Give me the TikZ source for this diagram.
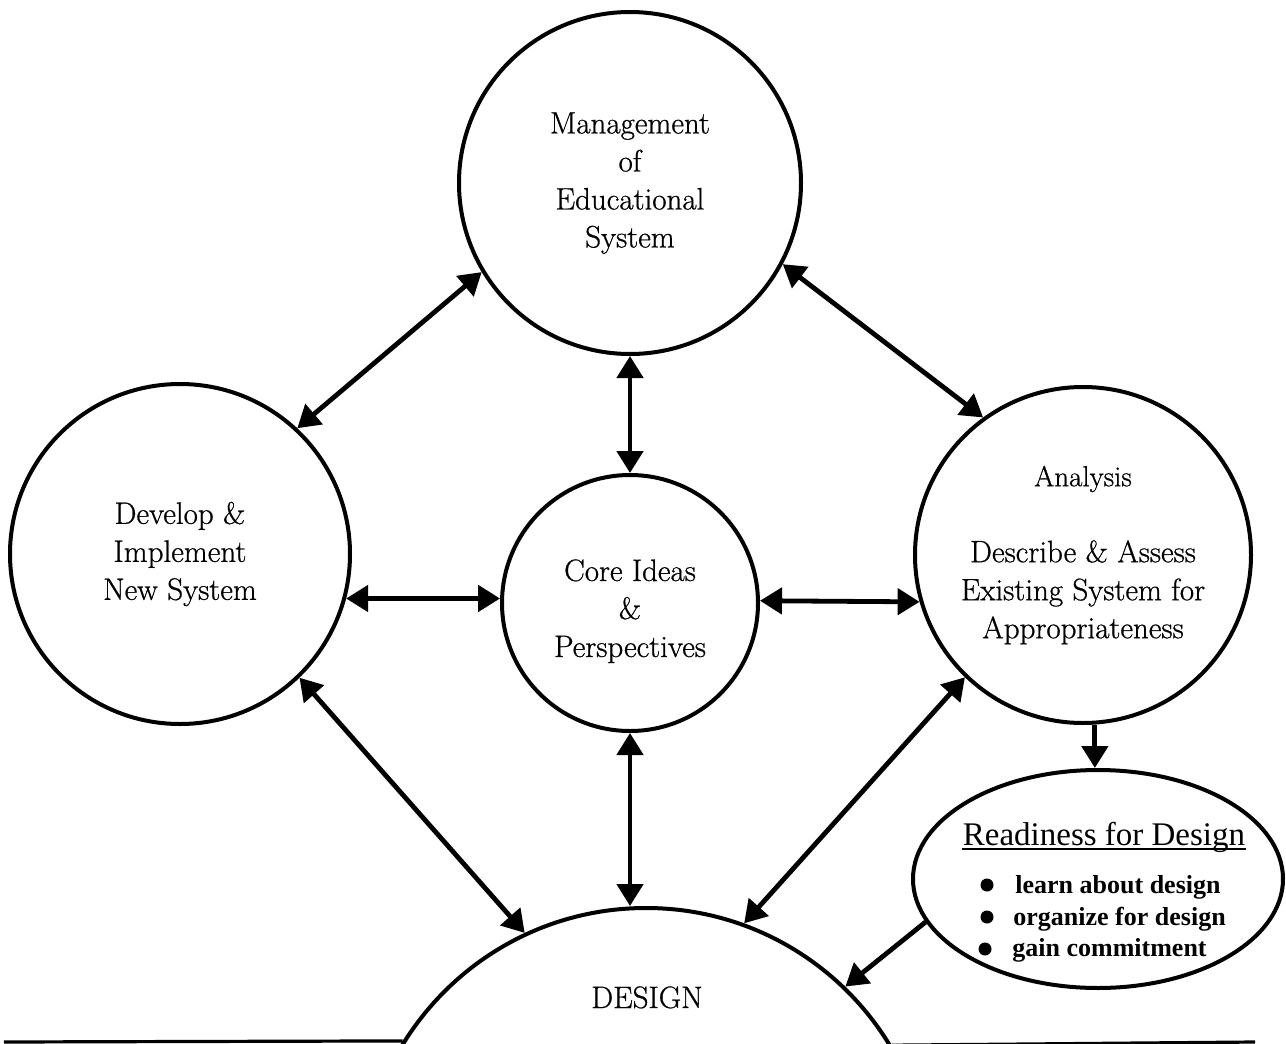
\documentclass[tikz,border=0pt]{standalone}
\usepackage{fontspec}
\newfontfamily\timesfont{Liberation Serif}
\newfontfamily\bodyfont{Latin Modern Roman}[FakeBold=0.7]
\usetikzlibrary{arrows.meta,shapes.geometric}

\begin{document}
\begin{tikzpicture}[x=0.5pt,y=-0.5pt,
  bubble/.style={circle, draw, line width=2pt, inner sep=0pt, align=center,
    font=\bodyfont\fontsize{15.5}{19}\selectfont},
  link/.style={line width=2.4pt, {Triangle[length=11pt,width=13pt]}-{Triangle[length=11pt,width=13pt]}},
  oneway/.style={line width=2.4pt, -{Triangle[length=11pt,width=13pt]}},
  item/.style={anchor=base west, inner sep=0pt, font=\timesfont\bfseries\fontsize{13}{13}\selectfont},
  dot/.style={circle, fill=black, inner sep=0pt, minimum size=6.5pt},
]
\useasboundingbox (0,0) rectangle (1286,1044);
\clip (0,0) rectangle (1286,1044);

% the five stages
\node[bubble, minimum size=171pt] (mgmt) at (630,183)
  {Management\\of\\Educational\\System};
\node[bubble, minimum size=170pt] (dev) at (180,554)
  {Develop \&\\Implement\\New System};
\node[bubble, minimum size=128pt] (core) at (630,603)
  {\rule{0pt}{19pt}Core Ideas\\\&\\Perspectives};
\node[bubble, minimum size=168pt] (ana) at (1083,555)
  {{\fontsize{14.5}{19}\selectfont Analysis}\\[19pt]
   Describe \& Assess\\Existing System for\\Appropriateness};
\node[circle, draw, line width=2pt, minimum size=285pt, inner sep=0pt] (design) at (646,1193) {};
\node[anchor=base, inner sep=0pt, font=\bodyfont\fontsize{15.5}{19}\selectfont] (designtext) at (647,1008) {DESIGN};

% readiness ellipse with its list
\node[ellipse, draw, line width=2pt, minimum width=185pt, minimum height=109pt, inner sep=0pt] (ready) at (1098,879) {};
\node[anchor=base, inner sep=0pt, font=\timesfont\fontsize{16.5}{16.5}\selectfont] (readytitle) at (1104,845) {Readiness for Design};
\draw[line width=0.9pt] ([yshift=-2pt]readytitle.base west) -- ([yshift=-2pt]readytitle.base east);
\node[dot] (b1) at (987,885) {};
\node[dot] (b2) at (987,917) {};
\node[dot] (b3) at (985,949) {};
\node[item] (i1) at (1015,893) {learn about design};
\node[item] (i2) at (1013,925) {organize for design};
\node[item] (i3) at (1012,956) {gain commitment};

% connections
\draw[link] (mgmt.-149) -- (dev.47.2);
\draw[link] (mgmt.-28.9) -- (ana.126.9);
\draw[link] (mgmt.south) -- (core.north);
\draw[link] (dev.-15) -- (core.178);
\draw[link] (core.1.3) -- (ana.-164.5);
\draw[link] (dev.-46.4) -- (design.115.7);
\draw[link] (core.south) -- (core.south |- design.north);
\draw[link] (ana.-134.5) -- (design.70.8);
\draw[oneway] (ana.-86.6) -- (ana.-86.6 |- ready.north);
\draw[oneway] (ready.-166) -- (design.46.1);

% base line
\draw[line width=1.6pt] (4,1042) -- (design.148.24);
\draw[line width=1.6pt] (design.31.76) -- (1255,1042);
\end{tikzpicture}
\end{document}
